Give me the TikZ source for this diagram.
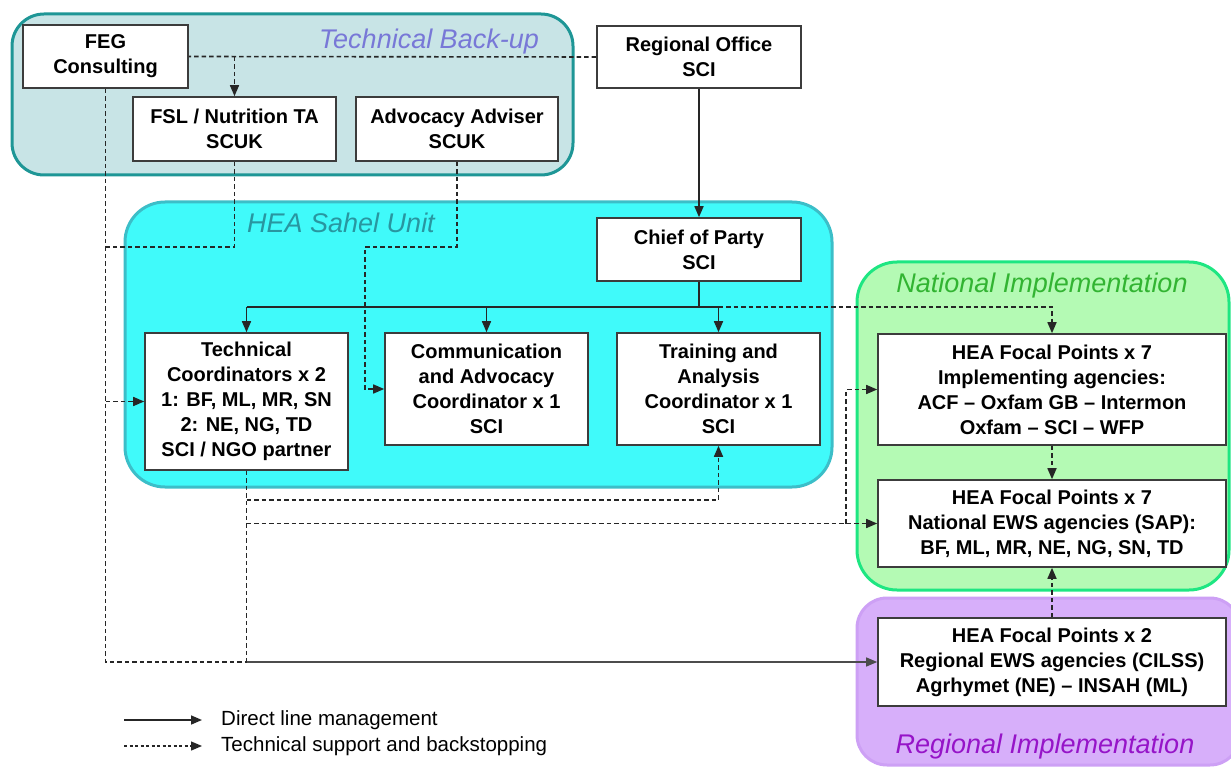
\documentclass[tikz,border=0pt]{standalone}
\usepackage{fontspec}
\setmainfont{Liberation Sans}
\usetikzlibrary{arrows.meta}
\definecolor{backupfill}{RGB}{200,228,230}
\definecolor{backupdraw}{RGB}{30,150,150}
\definecolor{backuptext}{RGB}{120,120,215}
\definecolor{sahelfill}{RGB}{64,250,250}
\definecolor{saheldraw}{RGB}{60,190,200}
\definecolor{saheltext}{RGB}{40,150,160}
\definecolor{natfill}{RGB}{180,250,180}
\definecolor{natdraw}{RGB}{30,230,130}
\definecolor{nattext}{RGB}{50,180,50}
\definecolor{regfill}{RGB}{215,175,250}
\definecolor{regdraw}{RGB}{205,160,245}
\definecolor{regtext}{RGB}{150,20,200}
\definecolor{boxline}{RGB}{60,60,60}
\tikzset{
  orgbox/.style={draw=boxline, line width=1.6pt, fill=white, inner sep=0pt, align=center,
    font=\fontsize{20}{25}\selectfont\bfseries},
  grouplabel/.style={anchor=base, inner sep=0pt, font=\fontsize{27}{31}\selectfont\itshape},
  grp/.style={line width=3pt, rounded corners=32pt},
  mgmt/.style={line width=1.6pt, draw=black!85, -{Triangle[length=11pt,width=9pt]}},
  mgmtline/.style={line width=1.6pt, draw=black!85},
  supp/.style={line width=1.6pt, draw=black!85, dash pattern=on 4.5pt off 3pt, -{Triangle[length=11pt,width=9pt]}},
  suppline/.style={line width=1.6pt, draw=black!85, dash pattern=on 4.5pt off 3pt},
  legendtext/.style={anchor=west, inner sep=0pt, font=\fontsize{20.5}{24}\selectfont}
}
\begin{document}
\begin{tikzpicture}[x=1pt,y=-1pt]
\useasboundingbox (0,0) rectangle (1231,767);
\clip (0,0) rectangle (1231,767);
% groups
\path[grp, fill=backupfill, draw=backupdraw] (12,14) rectangle (573,175);
\path[grp, fill=sahelfill, draw=saheldraw, rounded corners=40pt] (125,202) rectangle (832,487);
\path[grp, fill=natfill, draw=natdraw, rounded corners=40pt] (857,262) rectangle (1229,590);
\path[grp, fill=regfill, draw=regdraw, rounded corners=30pt] (857,598) rectangle (1240,765);
\node[grouplabel, text=backuptext] (lbackup) at (429,49) {Technical Back-up};
\node[grouplabel, text=saheltext] (lsahel) at (341,233) {HEA Sahel Unit};
\node[grouplabel, text=nattext] (lnat) at (1042,293) {National Implementation};
\node[grouplabel, text=regtext] (lreg) at (1045,753) {Regional Implementation};
% boxes
\node[orgbox, minimum width=165pt, minimum height=63pt] (FEG) at (105.5,56.5) {FEG\\Consulting};
\node[orgbox, minimum width=203pt, minimum height=64pt] (FSL) at (234.5,129) {FSL / Nutrition TA\\SCUK};
\node[orgbox, minimum width=202pt, minimum height=64pt] (ADV) at (457,129) {Advocacy Adviser\\SCUK};
\node[orgbox, minimum width=204pt, minimum height=62pt] (RO) at (699,57) {Regional Office\\SCI};
\node[orgbox, minimum width=204pt, minimum height=63pt] (COP) at (699,249.5) {Chief of Party\\SCI};
\node[orgbox, minimum width=203pt, minimum height=137pt] (TC) at (246.5,401.5) {Technical\\Coordinators x 2\\1: BF, ML, MR, SN\\2: NE, NG, TD\hspace*{3.2em}\\SCI / NGO partner};
\node[orgbox, minimum width=203pt, minimum height=112pt] (COMM) at (486.5,389) {Communication\\and Advocacy\\Coordinator x 1\\SCI};
\node[orgbox, minimum width=203pt, minimum height=112pt] (TRAIN) at (718.5,389) {Training and\\Analysis\\Coordinator x 1\\SCI};
\node[orgbox, minimum width=348pt, minimum height=111pt] (FP1) at (1052,389.5) {HEA Focal Points x 7\\Implementing agencies:\\ACF -- Oxfam GB -- Intermon\\Oxfam -- SCI -- WFP};
\node[orgbox, minimum width=348pt, minimum height=87pt] (FP2) at (1052,523.5) {HEA Focal Points x 7\\National EWS agencies (SAP):\\BF, ML, MR, NE, NG, SN, TD};
\node[orgbox, minimum width=348pt, minimum height=88pt] (FP3) at (1052,662) {HEA Focal Points x 2\\Regional EWS agencies (CILSS)\\Agrhymet (NE) -- INSAH (ML)};
% junction coordinates
\coordinate (j1) at (FSL.north |- RO.west);
\coordinate (bus) at (699,307);
\coordinate (fslturn) at (234.5,247);
\coordinate (advturn) at (365,247);
\coordinate (c662) at (TC.south |- FP3.west);
\coordinate (t500) at (246.5,500);
\coordinate (t524) at (TC.south |- FP2.west);
\coordinate (k) at (846,523.5);
% top dashed
\draw[suppline] (RO.west) -- (FEG.east);
\draw[supp] (j1) -- (FSL.north);
% direct management
\draw[mgmt] (RO.south) -- (COP.north);
\draw[mgmtline] (COP.south) -- (bus);
\draw[mgmtline] (TC.north |- bus) -- (TRAIN.north |- bus);
\draw[mgmt] (TC.north |- bus) -- (TC.north);
\draw[mgmt] (COMM.north |- bus) -- (COMM.north);
\draw[mgmt] (TRAIN.north |- bus) -- (TRAIN.north);
\draw[supp] (TRAIN.north |- bus) -| (FP1.north);
% FEG line
\draw[suppline] (FEG.south) |- (c662);
\draw[supp] (FEG.south |- TC.west) -- (TC.west);
\draw[suppline] (FSL.south) -- (fslturn) -- (FEG.south |- fslturn);
\draw[supp] (ADV.south) |- (advturn) |- (COMM.west);
% from technical coordinators
\draw[suppline] (TC.south) -- (c662);
\draw[mgmt, line width=1.3pt, draw=black!70] (c662) -- (FP3.west);
\draw[supp] (t500) -| (TRAIN.south);
\draw[supp] (t524) -- (FP2.west);
\draw[supp] (k) |- (FP1.west);
% national / regional
\draw[supp] (FP1.south) -- (FP2.north);
\draw[supp] (FP3.north) -- (FP2.south);
% legend
\coordinate (l1) at (124,720);
\coordinate (l2) at (202,720);
\coordinate (l3) at (124,746);
\coordinate (l4) at (202,746);
\draw[mgmt] (l1) -- (l2);
\draw[supp, line width=1.3pt, dash pattern=on 3pt off 2.5pt] (l3) -- (l4);
\node[legendtext] (leg1) at (221,720) {Direct line management};
\node[legendtext] (leg2) at (221,746) {Technical support and backstopping};
\end{tikzpicture}
\end{document}
